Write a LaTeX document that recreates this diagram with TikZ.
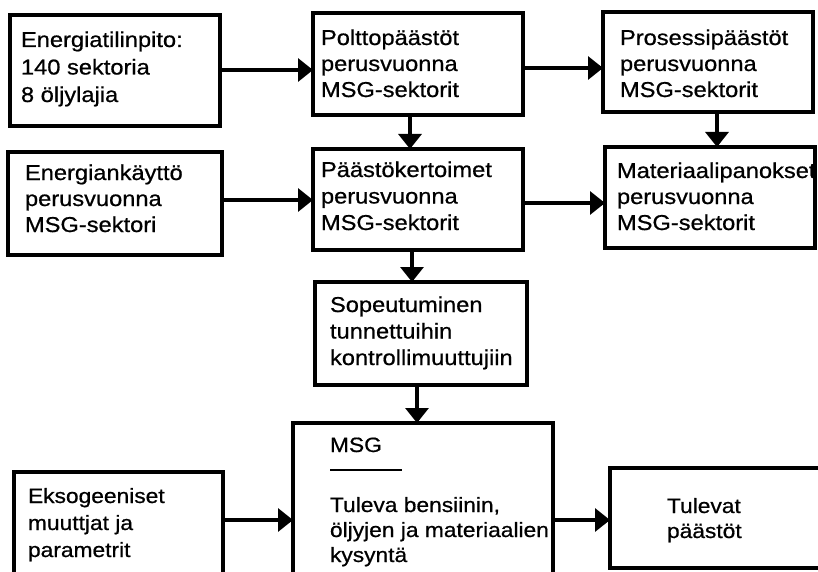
\documentclass[tikz,border=0pt]{standalone}
\usepackage{fontspec}
\setmainfont[FakeStretch=1.1, FakeBold=0.7]{Liberation Sans}
\usetikzlibrary{arrows.meta}

% multi-line left-aligned label whose reference point is the first baseline
\newcommand{\stack}[3][21.5]{{\fontsize{#1}{#2}\selectfont\begin{tabular}[t]{@{}l@{}}#3\end{tabular}}}

\begin{document}
\begin{tikzpicture}[x=1pt, y=-1pt,
  box/.style={draw, line width=3.2pt, rectangle, inner sep=0pt, outer sep=0pt, anchor=north west},
  lbl/.style={anchor=base west, inner sep=0pt, outer sep=0pt},
  arr/.style={line width=3.2pt, -{Triangle[length=15pt, width=23pt]}}]

\useasboundingbox (0,0) rectangle (818,572);
\clip (0,0) rectangle (818,572);
\fill[white] (0,0) rectangle (818,572);

% boxes
\node[box, minimum width=210pt, minimum height=111pt] (A) at (10,15) {};
\node[box, minimum width=210pt, minimum height=102pt] (B) at (313,13) {};
\node[box, minimum width=210pt, minimum height=100pt] (C) at (603,12) {};
\node[box, minimum width=214pt, minimum height=103pt] (F) at (8,152) {};
\node[box, minimum width=210pt, minimum height=101pt] (D) at (313,149) {};
\node[box, minimum width=210pt, minimum height=101pt] (E) at (605,147) {};
\node[box, minimum width=212pt, minimum height=103pt] (G) at (315,282) {};
\node[box, minimum width=260pt, minimum height=180pt] (H) at (293,423) {};
\node[box, minimum width=209pt, minimum height=130pt] (I) at (14,472) {};
\node[box, minimum width=230pt, minimum height=100pt] (J) at (610,468) {};

% texts
\node[lbl] (tA) at (21,47) {\stack{27.5}{Energiatilinpito:\\140 sektoria\\8 öljylajia}};
\node[lbl] (tB) at (321,45) {\stack{26}{Polttopäästöt\\perusvuonna\\MSG-sektorit}};
\node[lbl] (tC) at (620,45) {\stack{26}{Prosessipäästöt\\perusvuonna\\MSG-sektorit}};
\node[lbl] (tF) at (25,180) {\stack{26}{Energiankäyttö\\perusvuonna\\MSG-sektori}};
\node[lbl] (tD) at (321,177) {\stack{26.5}{Päästökertoimet\\perusvuonna\\MSG-sektorit}};
\node[lbl] (tE) at (617,178) {\stack{26}{Materiaalipanokset\\perusvuonna\\MSG-sektorit}};
\node[lbl] (tG) at (330,312) {\stack{26.5}{Sopeutuminen\\tunnettuihin\\kontrollimuuttujiin}};
\node[lbl] (tH1) at (330,452) {\stack[20.7]{26}{MSG}};
\node[lbl] (tH2) at (330,512) {\stack[20.7]{25}{Tuleva bensiinin,\\öljyjen ja materiaalien\\kysyntä}};
\node[lbl] (tI) at (28,503) {\stack[20.7]{27}{Eksogeeniset\\muuttjat ja\\parametrit}};
\node[lbl] (tJ) at (667,513) {\stack[20.7]{25}{Tulevat\\päästöt}};

% rule under the MSG heading
\draw[line width=2.4pt] ([xshift=37pt, yshift=-47pt]H.north west) -- ++(72,0);

% connectors
\draw[arr] ([yshift=0.5pt]A.east) -- ([yshift=0.5pt]A.east -| B.west);
\draw[arr] ([yshift=-4pt]B.east) -- ([yshift=-4pt]B.east -| C.west);
\draw[arr] ([xshift=-8pt]B.south) -- ([xshift=-8pt]B.south |- D.north);
\draw[arr] ([xshift=9pt]C.south) -- ([xshift=9pt]C.south |- E.north);
\draw[arr] ([yshift=3.5pt]F.east) -- ([yshift=3.5pt]F.east -| D.west);
\draw[arr] ([yshift=-3.5pt]D.east) -- ([yshift=-3.5pt]D.east -| E.west);
\draw[arr] ([xshift=-6pt]D.south) -- ([xshift=-6pt]D.south |- G.north);
\draw[arr] ([xshift=-4pt]G.south) -- ([xshift=-4pt]G.south |- H.north);
\draw[arr] ([yshift=17pt]I.east) -- ([yshift=17pt]I.east -| H.west);
\draw[arr] ([yshift=-2pt]J.west -| H.east) -- ([yshift=-2pt]J.west);
\end{tikzpicture}
\end{document}
